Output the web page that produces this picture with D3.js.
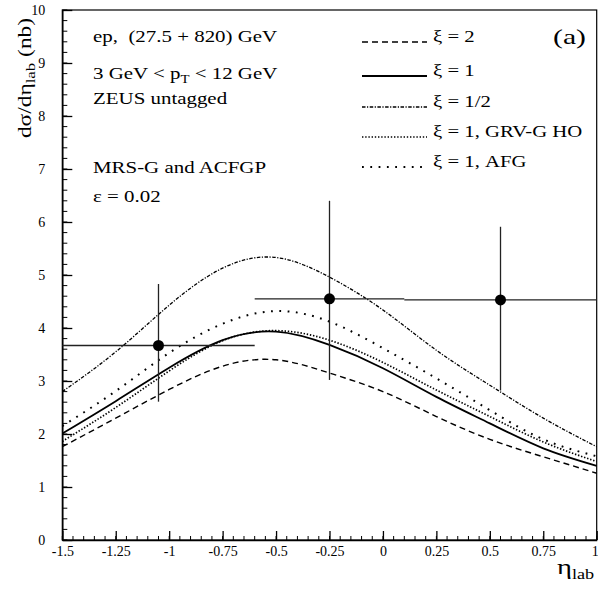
<!doctype html>
<html lang="en">
<head>
    <meta charset="utf-8">
    <script src="https://d3js.org/d3.v7.min.js"></script>
    <style>
        body { margin:0; background:#fff; }
        svg { display:block; font-family:"Liberation Serif", "DejaVu Serif", serif; }
        text { white-space: pre; }
    </style>
    <title>dsigma / deta lab</title>
</head>
<body>
<script>

    var etaGrid = [-1.5, -1.25, -1, -0.75, -0.5, -0.25, 0, 0.25, 0.5, 0.75, 1];

    // theory curves (nb)
    var xi2    = [1.76, 2.30, 2.84, 3.28, 3.40, 3.15, 2.80, 2.33, 1.90, 1.57, 1.26];
    var xi1    = [2.01, 2.62, 3.25, 3.77, 3.93, 3.68, 3.24, 2.70, 2.20, 1.73, 1.40];
    var xiHalf = [2.80, 3.55, 4.43, 5.13, 5.33, 4.96, 4.34, 3.58, 2.92, 2.30, 1.76];
    var xi1Grv = [1.86, 2.50, 3.19, 3.76, 3.95, 3.77, 3.35, 2.83, 2.33, 1.85, 1.48];
    var xi1Afg = [2.15, 2.81, 3.53, 4.08, 4.32, 4.12, 3.62, 3.05, 2.45, 1.90, 1.58];

    // ZEUS points
    var dataEta = [-1.05, -0.25, 0.55];
    var dataVal = [3.67, 4.55, 4.53];
    var errLow  = [2.61, 3.02, 2.82];
    var errHigh = [4.83, 6.40, 5.91];
    var binLow  = [-1.5, -0.6, 0.1];
    var binHigh = [-0.6, 0.1, 1.0];

    var xTicks = [-1.5, -1.25, -1, -0.75, -0.5, -0.25, 0, 0.25, 0.5, 0.75, 1];
    var xTickLabels = ["-1.5", "-1.25", "-1", "-0.75", "-0.5", "-0.25", "0", "0.25", "0.5", "0.75", "1"];
    var yTicks = [0, 1, 2, 3, 4, 5, 6, 7, 8, 9, 10];

    var legendLabels = ["\u03be = 2", "\u03be = 1", "\u03be = 1/2", "\u03be = 1, GRV-G HO", "\u03be = 1, AFG"];
    var infoLines = ["ep,  (27.5 + 820) GeV", "3 GeV < p_T < 12 GeV", "ZEUS untagged", "MRS-G and ACFGP", "\u03b5 = 0.02"];

    var margin = {top: 10, right: 1.3, bottom: 57, left: 62.3},
        width = 598 - margin.left - margin.right,
        height = 597 - margin.top - margin.bottom;

    var x = d3.scaleLinear().domain([-1.5, 1]).range([0, width]);
    var y = d3.scaleLinear().domain([0, 10]).range([height, 0]);

    var root = d3.select("body").append("svg")
        .attr("width", 598)
        .attr("height", 597);
    var svg = root.append("g")
        .attr("transform", "translate(" + margin.left + "," + margin.top + ")");

    // the scanned font is wider than Liberation Serif, so stretch text horizontally
    function wideText(px, py, size, sx, rot) {
        return root.append("text")
            .attr("transform", "translate(" + px + "," + py + ")" + (rot ? " rotate(" + rot + ")" : "") + " scale(" + sx + ",1)")
            .attr("font-size", size);
    }

    // frame
    svg.append("rect")
        .attr("width", width).attr("height", height)
        .attr("fill", "none").attr("stroke", "#000").attr("stroke-width", 1.2);

    // x axis: major + minor ticks pointing inward
    var xMinor = d3.range(-1.5, 1.0001, 0.05);
    svg.append("g").selectAll("line").data(xMinor).enter().append("line")
        .attr("x1", function(d) { return x(d); }).attr("x2", function(d) { return x(d); })
        .attr("y1", height).attr("y2", height - 4)
        .attr("stroke", "#000").attr("stroke-width", 1);

    var xAxis = svg.append("g")
        .attr("transform", "translate(0," + height + ")")
        .call(d3.axisBottom(x).tickValues(xTicks)
            .tickFormat(function(d, i) { return xTickLabels[i]; })
            .tickSizeInner(-9).tickSizeOuter(0).tickPadding(5));
    xAxis.select(".domain").attr("stroke-width", 1.5);
    xAxis.selectAll("line").attr("stroke-width", 1.3);
    xAxis.selectAll("text").attr("font-size", 14).attr("font-family", "Liberation Serif")
        .attr("dy", "0.78em").attr("fill", "#000");
    xAxis.selectAll(".tick:last-of-type text").attr("text-anchor", "end").attr("x", 1.5);

    // y axis
    var yMinor = d3.range(0, 10.0001, 0.2);
    svg.append("g").selectAll("line").data(yMinor).enter().append("line")
        .attr("x1", 0).attr("x2", 5)
        .attr("y1", function(d) { return y(d); }).attr("y2", function(d) { return y(d); })
        .attr("stroke", "#000").attr("stroke-width", 1);

    var yAxis = svg.append("g")
        .call(d3.axisLeft(y).tickValues(yTicks)
            .tickSizeInner(-10).tickSizeOuter(0).tickPadding(17));
    yAxis.select(".domain").attr("stroke-width", 1.5);
    yAxis.selectAll("line").attr("stroke-width", 1.3);
    yAxis.selectAll("text").attr("font-size", 14).attr("font-family", "Liberation Serif").attr("fill", "#000");

    // curves
    var curves = [
        {vals: xi2,    dash: "6,4",           w: 1.4},
        {vals: xi1,    dash: null,            w: 1.8},
        {vals: xiHalf, dash: "3.5,1.5,1.2,1.5", w: 1.3},
        {vals: xi1Grv, dash: "1.4,1.8",       w: 1.7},
        {vals: xi1Afg, dash: "1.8,6.5",       w: 2.0}
    ];

    var line = d3.line()
        .x(function(d) { return x(d[0]); })
        .y(function(d) { return y(d[1]); })
        .curve(d3.curveNatural);

    curves.forEach(function(c) {
        svg.append("path")
            .datum(etaGrid.map(function(e, i) { return [e, c.vals[i]]; }))
            .attr("d", line)
            .attr("fill", "none")
            .attr("stroke", "#000")
            .attr("stroke-width", c.w)
            .attr("stroke-dasharray", c.dash);
    });

    // data points with error bars
    var pts = svg.append("g");
    dataEta.forEach(function(e, i) {
        pts.append("line")
            .attr("x1", x(binLow[i])).attr("x2", x(binHigh[i]))
            .attr("y1", y(dataVal[i])).attr("y2", y(dataVal[i]))
            .attr("stroke", "#222").attr("stroke-width", 1.3);
        pts.append("line")
            .attr("x1", x(e)).attr("x2", x(e))
            .attr("y1", y(errLow[i])).attr("y2", y(errHigh[i]))
            .attr("stroke", "#222").attr("stroke-width", 1.3);
        pts.append("circle")
            .attr("cx", x(e)).attr("cy", y(dataVal[i])).attr("r", 5.5)
            .attr("fill", "#000");
    });

    // info text block
    var infoY = [42, 79, 104, 173, 202];
    infoLines.forEach(function(t, i) {
        var tx = wideText(93, infoY[i], 17, 1.23);
        if (t.indexOf("p_T") >= 0) {
            var parts = t.split("p_T");
            tx.append("tspan").text(parts[0] + "p");
            tx.append("tspan").attr("font-size", 12).attr("dy", 4).text("T");
            tx.append("tspan").attr("dy", -4).text(parts[1]);
        } else {
            tx.text(t);
        }
    });

    // legend
    var legY = [42, 76, 107, 137, 167];
    legendLabels.forEach(function(t, i) {
        var c = curves[i];
        root.append("line")
            .attr("x1", 362).attr("x2", 427)
            .attr("y1", legY[i]).attr("y2", legY[i])
            .attr("stroke", "#000").attr("stroke-width", c.w)
            .attr("stroke-dasharray", c.dash);
        wideText(433, legY[i], 17, 1.22).text(t);
    });

    wideText(553, 44, 22, 1.35).text("(a)");

    // axis titles
    var yt = wideText(31, 78, 18, 1.3, -90).attr("text-anchor", "middle");
    yt.append("tspan").text("d\u03c3/d\u03b7");
    yt.append("tspan").attr("font-size", 13).attr("dy", 4).text("lab");
    yt.append("tspan").attr("dy", -4).text(" (nb)");

    var xt = wideText(557, 574, 22, 1.3);
    xt.append("tspan").text("\u03b7");
    xt.append("tspan").attr("font-size", 14).attr("dy", 5).text("lab");

</script>
</body>
</html>
